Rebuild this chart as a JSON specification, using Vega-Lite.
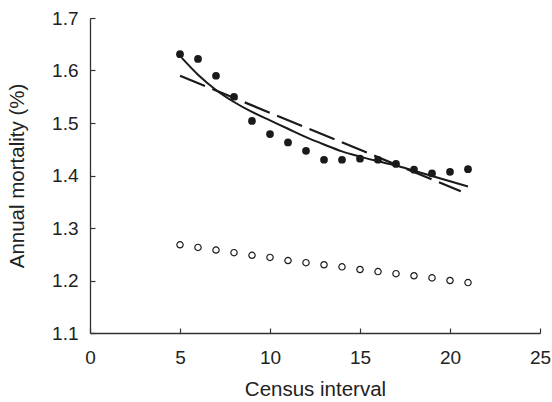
{
  "$schema": "https://vega.github.io/schema/vega-lite/v6.json",
  "autosize": "none",
  "width": 450,
  "height": 315,
  "padding": {"left": 90, "top": 18, "right": 12, "bottom": 69},
  "background": "white",
  "datasets": {
    "filled": [
      {"interval": 5, "mortality": 1.631},
      {"interval": 6, "mortality": 1.622},
      {"interval": 7, "mortality": 1.590},
      {"interval": 8, "mortality": 1.550},
      {"interval": 9, "mortality": 1.504},
      {"interval": 10, "mortality": 1.479},
      {"interval": 11, "mortality": 1.463},
      {"interval": 12, "mortality": 1.447},
      {"interval": 13, "mortality": 1.430},
      {"interval": 14, "mortality": 1.430},
      {"interval": 15, "mortality": 1.432},
      {"interval": 16, "mortality": 1.430},
      {"interval": 17, "mortality": 1.422},
      {"interval": 18, "mortality": 1.411},
      {"interval": 19, "mortality": 1.404},
      {"interval": 20, "mortality": 1.407},
      {"interval": 21, "mortality": 1.412}
    ],
    "open": [
      {"interval": 5, "mortality": 1.268},
      {"interval": 6, "mortality": 1.263},
      {"interval": 7, "mortality": 1.258},
      {"interval": 8, "mortality": 1.253},
      {"interval": 9, "mortality": 1.248},
      {"interval": 10, "mortality": 1.244},
      {"interval": 11, "mortality": 1.238},
      {"interval": 12, "mortality": 1.234},
      {"interval": 13, "mortality": 1.230},
      {"interval": 14, "mortality": 1.226},
      {"interval": 15, "mortality": 1.221},
      {"interval": 16, "mortality": 1.217},
      {"interval": 17, "mortality": 1.213},
      {"interval": 18, "mortality": 1.209},
      {"interval": 19, "mortality": 1.205},
      {"interval": 20, "mortality": 1.200},
      {"interval": 21, "mortality": 1.196}
    ],
    "curve": [
      {"interval": 5.1, "mortality": 1.624},
      {"interval": 6, "mortality": 1.592},
      {"interval": 7, "mortality": 1.563},
      {"interval": 8, "mortality": 1.540},
      {"interval": 9, "mortality": 1.521},
      {"interval": 10, "mortality": 1.505},
      {"interval": 11, "mortality": 1.489},
      {"interval": 12, "mortality": 1.473},
      {"interval": 13, "mortality": 1.459},
      {"interval": 14, "mortality": 1.446},
      {"interval": 15, "mortality": 1.436},
      {"interval": 16, "mortality": 1.427},
      {"interval": 17, "mortality": 1.419},
      {"interval": 18, "mortality": 1.409},
      {"interval": 19, "mortality": 1.399},
      {"interval": 20, "mortality": 1.389},
      {"interval": 21, "mortality": 1.379}
    ],
    "linear": [
      {"interval": 5, "mortality": 1.590},
      {"interval": 20.6, "mortality": 1.370}
    ]
  },
  "encoding": {
    "x": {
      "field": "interval",
      "type": "quantitative",
      "title": "Census interval",
      "scale": {"domain": [0, 25], "nice": false, "zero": false},
      "axis": {"values": [0, 5, 10, 15, 20, 25], "format": "d"}
    },
    "y": {
      "field": "mortality",
      "type": "quantitative",
      "title": "Annual mortality (%)",
      "scale": {"domain": [1.1, 1.7], "nice": false, "zero": false},
      "axis": {"values": [1.1, 1.2, 1.3, 1.4, 1.5, 1.6, 1.7], "format": ".1f"}
    }
  },
  "layer": [
    {
      "data": {"name": "linear"},
      "mark": {"type": "line", "color": "#1a1a1a", "strokeWidth": 2.2, "strokeDash": [27, 8]}
    },
    {
      "data": {"name": "curve"},
      "mark": {"type": "line", "color": "#1a1a1a", "strokeWidth": 2, "interpolate": "monotone"}
    },
    {
      "data": {"name": "filled"},
      "mark": {"type": "point", "shape": "circle", "filled": true, "color": "#1a1a1a", "opacity": 1, "size": 60}
    },
    {
      "data": {"name": "open"},
      "mark": {"type": "point", "shape": "circle", "filled": false, "stroke": "#1a1a1a", "opacity": 1, "strokeWidth": 1.2, "size": 40}
    }
  ],
  "config": {
    "view": {"stroke": null},
    "font": "Liberation Sans",
    "axis": {
      "grid": false,
      "labelFlush": false,
      "domainColor": "#333333",
      "domainWidth": 1.3,
      "tickColor": "#333333",
      "tickWidth": 1.2,
      "tickSize": -5,
      "labelFont": "Liberation Sans",
      "labelFontSize": 19,
      "labelColor": "#222222",
      "titleFont": "Liberation Sans",
      "titleFontSize": 20.5,
      "titleFontWeight": "normal",
      "titleColor": "#222222"
    },
    "axisX": {"labelPadding": 20, "titlePadding": 12},
    "axisY": {"labelPadding": 17, "titlePadding": 24}
  }
}
